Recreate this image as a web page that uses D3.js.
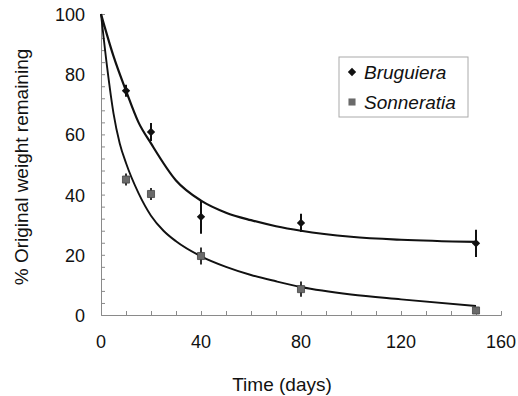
<!DOCTYPE html>
<html>
<head>
<meta charset="utf-8">
<script src="https://cdn.jsdelivr.net/npm/d3@7"></script>
<style>
  body { margin: 0; background: #fff; }
  text { font-family: Arial, "Liberation Sans", sans-serif; fill: #111; }
</style>
</head>
<body>
<div id="chart"></div>
<script>
// measured points (mean ± error)
const days = [10, 20, 40, 80, 150];
const brugMean = [74.5, 60.8, 32.6, 30.6, 23.8];
const brugErr = [2, 3, 5.6, 3, 4.5];
const sonnMean = [45, 40.2, 19.6, 8.6, 1.5];
const sonnErr = [2, 2, 2.8, 2.5, 0.8];

// fitted curves
const brugCurveT = [0, 5, 10, 15, 20, 30, 40, 50, 60, 70, 80, 100, 120, 150];
const brugCurveY = [100, 86, 74.5, 64, 57, 44.7, 38, 34, 31.5, 29.5, 28, 26, 25, 24.3];
const sonnCurveT = [0, 2.5, 5, 7.5, 10, 15, 20, 25, 30, 40, 50, 60, 70, 80, 100, 120, 150];
const sonnCurveY = [100, 82, 67, 57, 50.5, 40.5, 33, 28, 24.5, 19.5, 16, 13.3, 11.2, 9.3, 6.8, 5.2, 3];

const xTicks = [0, 40, 80, 120, 160];
const yTicks = [0, 20, 40, 60, 80, 100];
const seriesNames = ['Bruguiera', 'Sonneratia'];

const width = 518, height = 396;
const margin = {top: 14, right: 17, bottom: 81, left: 101};
const innerW = width - margin.left - margin.right;
const innerH = height - margin.top - margin.bottom;

const svg = d3.select('#chart').append('svg')
  .attr('width', width)
  .attr('height', height);

const x = d3.scaleLinear().domain([0, 160]).range([0, innerW]);
const y = d3.scaleLinear().domain([0, 100]).range([innerH, 0]);

const g = svg.append('g')
  .attr('transform', 'translate(' + margin.left + ',' + margin.top + ')');

// minor ticks (inside)
const axisColor = '#8a8a8a';
g.append('g')
  .attr('transform', 'translate(0,' + innerH + ')')
  .call(d3.axisTop(x).tickValues(d3.range(10, 161, 10)).tickSize(4).tickFormat(''))
  .call(s => s.select('.domain').attr('stroke', axisColor))
  .call(s => s.selectAll('.tick line').attr('stroke', axisColor));

g.append('g')
  .call(d3.axisRight(y).tickValues(d3.range(4, 101, 4)).tickSize(4).tickFormat(''))
  .call(s => s.select('.domain').attr('stroke', axisColor))
  .call(s => s.selectAll('.tick line').attr('stroke', axisColor));

// tick labels
g.selectAll('.xlab')
  .data(xTicks)
  .enter().append('text')
    .attr('x', d => x(d))
    .attr('y', innerH + 33)
    .attr('text-anchor', 'middle')
    .attr('font-size', 18)
    .text(d => d);

g.selectAll('.ylab')
  .data(yTicks)
  .enter().append('text')
    .attr('x', -16)
    .attr('y', d => y(d) + 7)
    .attr('text-anchor', 'end')
    .attr('font-size', 18)
    .text(d => d);

// axis titles
svg.append('text')
  .attr('x', margin.left + x(80) - 19)
  .attr('y', 391)
  .attr('text-anchor', 'middle')
  .attr('font-size', 19)
  .text('Time (days)');

svg.append('text')
  .attr('transform', 'translate(28,167) rotate(-90)')
  .attr('text-anchor', 'middle')
  .attr('font-size', 19)
  .text('% Original weight remaining');

// curves
const line = d3.line()
  .x(d => x(d[0]))
  .y(d => y(d[1]))
  .curve(d3.curveMonotoneX);

g.append('path')
  .datum(d3.zip(brugCurveT, brugCurveY))
  .attr('fill', 'none')
  .attr('stroke', '#111')
  .attr('stroke-width', 2.2)
  .attr('d', line);

g.append('path')
  .datum(d3.zip(sonnCurveT, sonnCurveY))
  .attr('fill', 'none')
  .attr('stroke', '#111')
  .attr('stroke-width', 1.9)
  .attr('d', line);

// error bars
const brug = days.map((d, i) => ({t: d, v: brugMean[i], e: brugErr[i]}));
const sonn = days.map((d, i) => ({t: d, v: sonnMean[i], e: sonnErr[i]}));

g.selectAll('.errB')
  .data(brug)
  .enter().append('line')
    .attr('x1', d => x(d.t)).attr('x2', d => x(d.t))
    .attr('y1', d => y(d.v + d.e)).attr('y2', d => y(d.v - d.e))
    .attr('stroke', '#111')
    .attr('stroke-width', 2);

g.selectAll('.errS')
  .data(sonn)
  .enter().append('line')
    .attr('x1', d => x(d.t)).attr('x2', d => x(d.t))
    .attr('y1', d => y(d.v + d.e)).attr('y2', d => y(d.v - d.e))
    .attr('stroke', '#333')
    .attr('stroke-width', 2);

// markers
const diamond = d3.symbol().type(d3.symbolDiamond2).size(44);
const square = d3.symbol().type(d3.symbolSquare).size(50);

g.selectAll('.ptB')
  .data(brug)
  .enter().append('path')
    .attr('transform', d => 'translate(' + x(d.t) + ',' + y(d.v) + ')')
    .attr('d', diamond)
    .attr('fill', '#111');

g.selectAll('.ptS')
  .data(sonn)
  .enter().append('path')
    .attr('transform', d => 'translate(' + x(d.t) + ',' + y(d.v) + ')')
    .attr('d', square)
    .attr('fill', '#6a6a6a')
    .attr('stroke', '#444')
    .attr('stroke-width', 0.8);

// legend
const legend = svg.append('g').attr('transform', 'translate(339,57)');
legend.append('rect')
  .attr('width', 129)
  .attr('height', 60)
  .attr('fill', '#fff')
  .attr('stroke', '#aaa')
  .attr('stroke-width', 1);

const legendMarks = [diamond, square];
const legendFill = ['#111', '#6a6a6a'];
seriesNames.forEach((name, i) => {
  const row = legend.append('g').attr('transform', 'translate(0,' + (15 + i * 30) + ')');
  row.append('path')
    .attr('transform', 'translate(13,0)')
    .attr('d', legendMarks[i])
    .attr('fill', legendFill[i]);
  row.append('text')
    .attr('x', 25)
    .attr('y', 6.5)
    .attr('font-size', 19)
    .attr('font-style', 'italic')
    .text(name);
});
</script>
</body>
</html>
